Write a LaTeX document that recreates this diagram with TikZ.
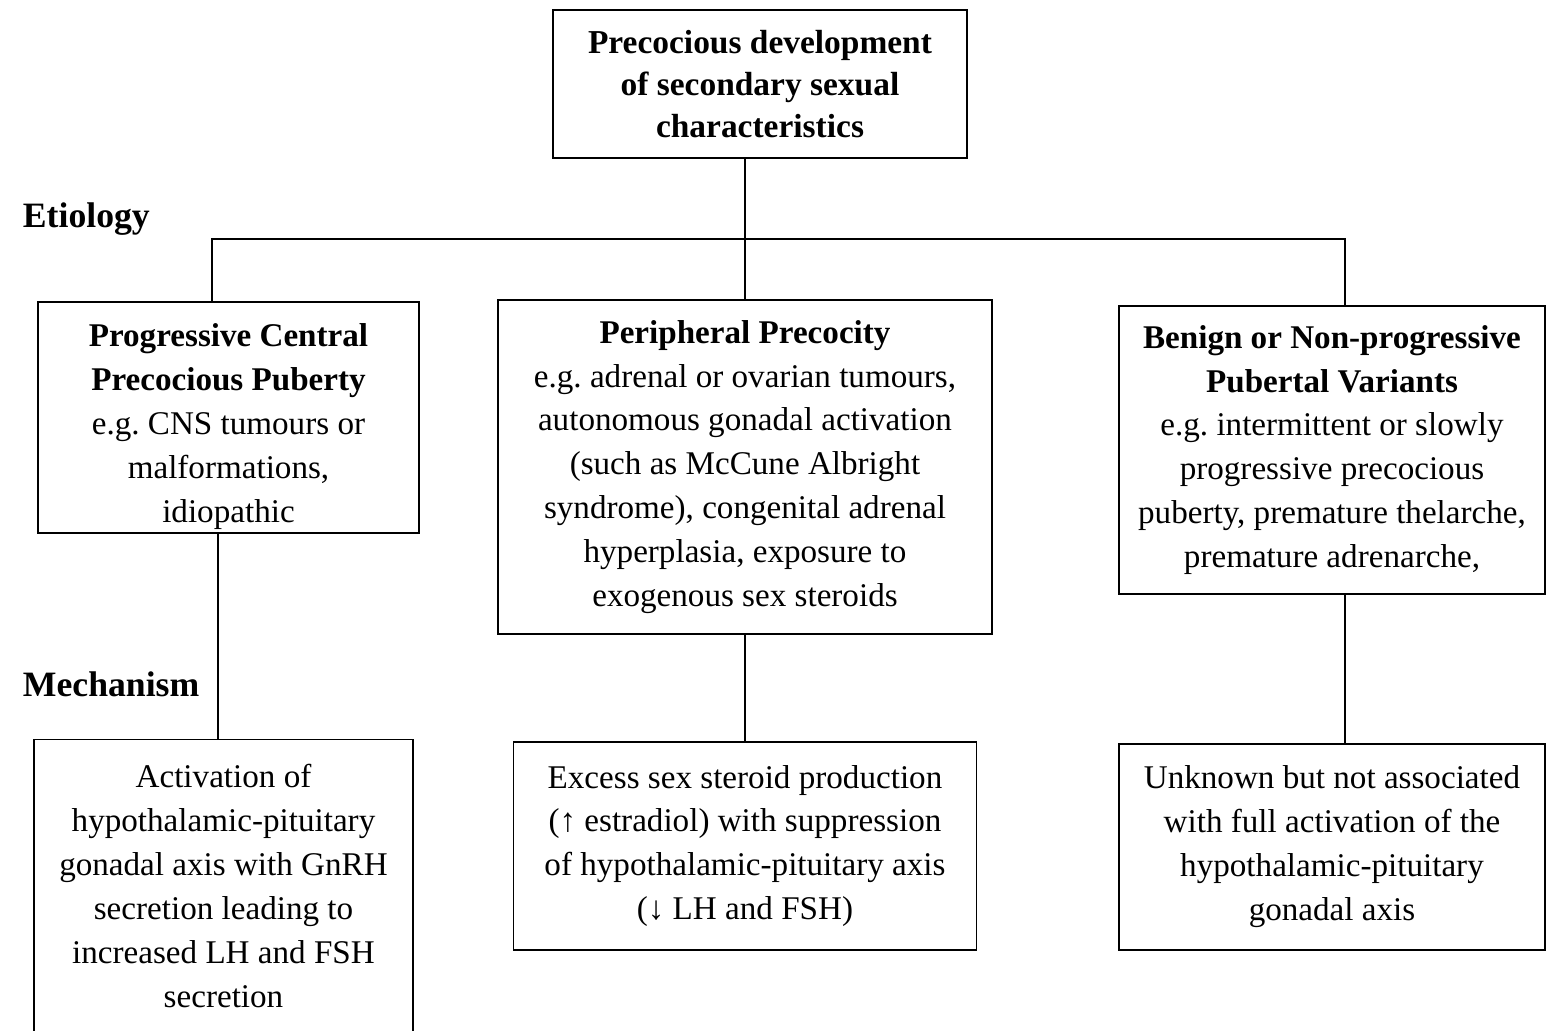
\documentclass[tikz,border=0pt]{standalone}
\usepackage{fontspec}
\setmainfont{Liberation Serif}
\frenchspacing
\begin{document}
\begin{tikzpicture}[x=0.314pt,y=-0.314pt,line width=0.6pt,
 every node/.append style={font=\fontsize{10.4}{13.8}\selectfont},
 box/.style={draw,align=center,inner sep=0pt},lab/.style={anchor=west,inner sep=0pt,font=\fontsize{11.2}{13.8}\selectfont\bfseries}]
 \useasboundingbox (0,0) rectangle (1547,1031);
 \node[box,minimum width=130pt,minimum height=46.5pt,font=\fontsize{10.5}{13.3}\selectfont\bfseries] (top) at (760,84)
  {Precocious development\\of secondary sexual\\characteristics};
 \node[lab] (etio) at (22,219) {Etiology};
 \node[lab] (mech) at (22,684) {Mechanism};
 \node[box,minimum width=119.6pt,minimum height=72.5pt] (cpp) at (228.5,417.5)
  {\rule{0pt}{13pt}{\bfseries Progressive Central}\\{\bfseries Precocious Puberty}\\e.g. CNS tumours or\\malformations,\\idiopathic};
 \node[box,minimum width=155.1pt,minimum height=104.9pt] (pp) at (745,467)
  {{\bfseries Peripheral Precocity}\\e.g. adrenal or ovarian tumours,\\autonomous gonadal activation\\(such as McCune Albright\\syndrome), congenital adrenal\\hyperplasia, exposure to\\exogenous sex steroids};
 \node[box,minimum width=133.8pt,minimum height=90.4pt] (bpv) at (1332,450)
  {{\bfseries Benign or Non-progressive}\\{\bfseries Pubertal Variants}\\e.g. intermittent or slowly\\progressive precocious\\puberty, premature thelarche,\\premature adrenarche,};
 \node[box,minimum width=119pt,minimum height=92pt] (m1) at (223.5,886)
  {Activation of\\hypothalamic-pituitary\\gonadal axis with GnRH\\secretion leading to\\increased LH and FSH\\secretion};
 \node[box,minimum width=145.4pt,minimum height=65.3pt] (m2) at (745,846)
  {Excess sex steroid production\\(↑ estradiol) with suppression\\of hypothalamic-pituitary axis\\(↓ LH and FSH)};
 \node[box,minimum width=133.8pt,minimum height=64.7pt] (m3) at (1332,847)
  {Unknown but not associated\\with full activation of the\\hypothalamic-pituitary\\gonadal axis};
 \coordinate (jl) at (212,239);
 \coordinate (jr) at (1345,239);
 \coordinate (jb) at (218,0);
 \draw (pp.north) -- (pp.north |- top.south);
 \draw (cpp.north -| jl) -- (jl) -- (jr) -- (jr |- bpv.north);
 \draw (cpp.south -| jb) -- (m1.north -| jb) (pp.south) -- (m2.north) (bpv.south -| jr) -- (m3.north -| jr);
\end{tikzpicture}
\end{document}
